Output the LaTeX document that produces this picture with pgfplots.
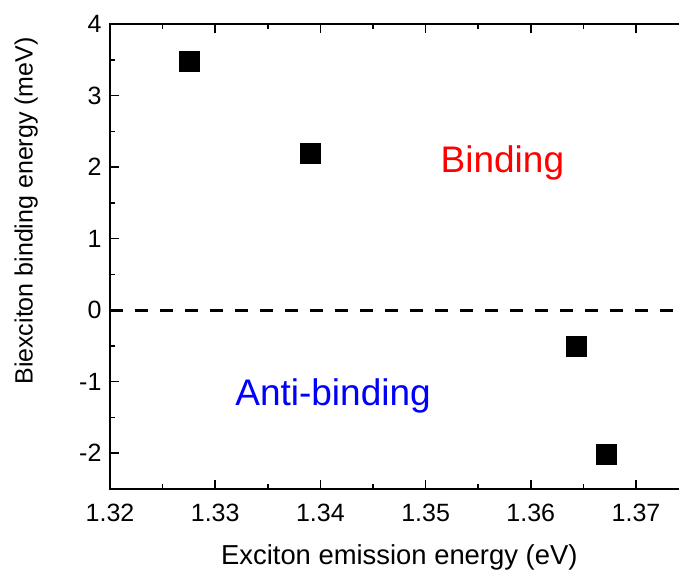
\documentclass[border=0pt]{standalone}
\usepackage{fontspec}
\setmainfont{Liberation Sans}
\usepackage{pgfplots}
\pgfplotsset{compat=1.18}
\begin{document}
\begin{tikzpicture}
\begin{axis}[
  at={(110pt,81pt)}, anchor=south west,
  scale only axis, width=578.6pt, height=465pt,
  xmin=1.32, xmax=1.375, ymin=-2.5, ymax=4,
  axis lines=box,
  xtick={1.32,1.33,1.34,1.35,1.36,1.37},
  ytick={-2,-1,0,1,2,3,4},
  minor x tick num=1, minor y tick num=1,
  major tick length=9pt, minor tick length=5pt,
  tick align=inside,
  axis line style={line width=2pt, black},
  every tick/.style={line width=1.6pt, black},
  scaled x ticks=false,
  /pgf/number format/assume math mode=true,
  xticklabel style={font=\fontsize{25}{30}\selectfont, yshift=-12pt, /pgf/number format/.cd, fixed, fixed zerofill, precision=2},
  yticklabel style={font=\fontsize{25}{30}\selectfont, xshift=-5pt},
  xlabel={Exciton emission energy (eV)},
  ylabel={Biexciton binding energy (meV)},
  every axis x label/.style={at={(axis description cs:0.5,-0.163)}, anchor=base, font=\fontsize{27.4}{32}\selectfont},
  every axis y label/.style={at={(axis description cs:-0.145,0.598)}, rotate=90, anchor=center, font=\fontsize{25}{30}\selectfont},
]
\addplot [black, line width=3pt, dash pattern=on 13pt off 12pt] coordinates {(1.32,0) (1.375,0)};
\addplot [only marks, mark=square*, mark size=10pt, mark options={fill=black, draw=black}] coordinates {
  (1.3275,3.48) (1.3390,2.20) (1.3643,-0.50) (1.3672,-2.01)
};
\node[text=red, font=\fontsize{37}{44}\selectfont, anchor=center] at (axis cs:1.3573,2.06) {Binding};
\node[text=blue, font=\fontsize{37}{44}\selectfont, anchor=center] at (axis cs:1.3412,-1.2) {Anti-binding};
\end{axis}
\pgfresetboundingbox
\useasboundingbox (0,0) rectangle (679pt,570pt);
\end{tikzpicture}
\end{document}
